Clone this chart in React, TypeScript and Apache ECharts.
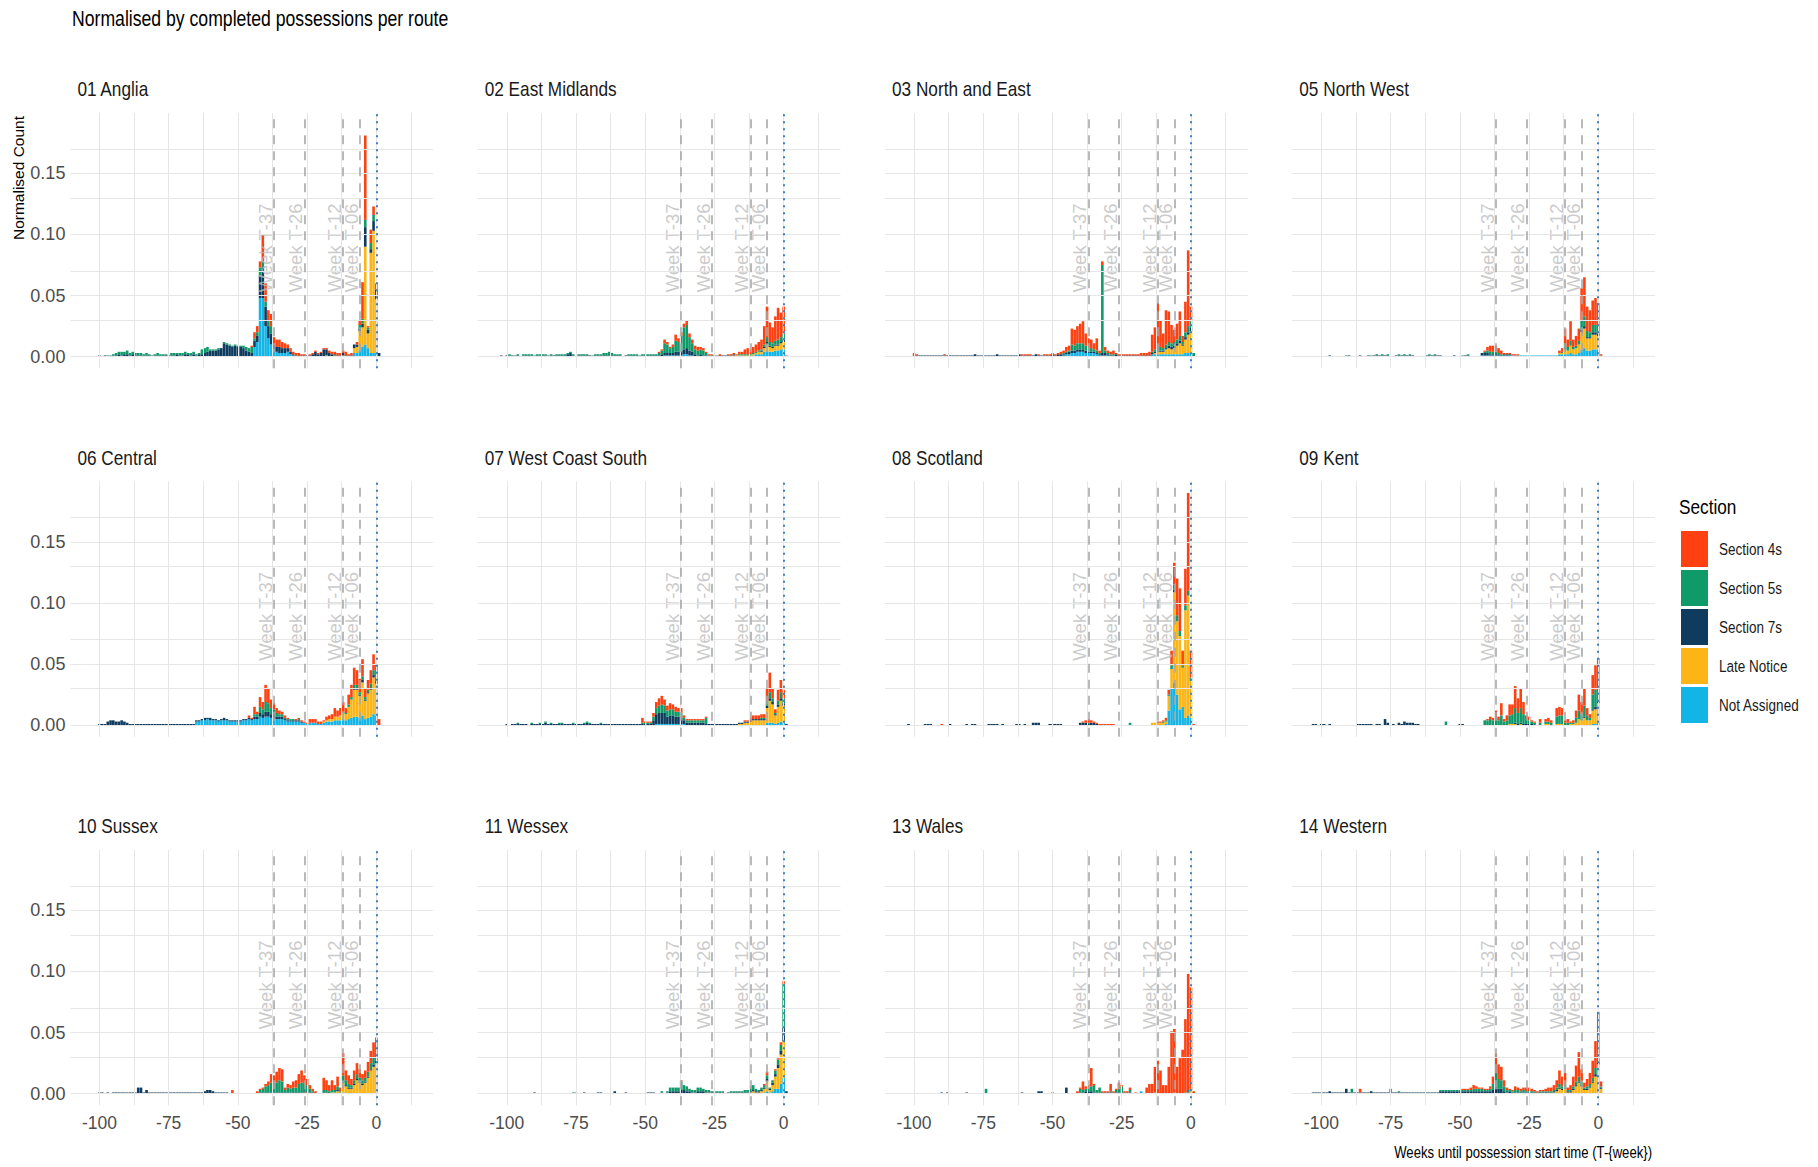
import React, { useEffect, useRef } from "react";
import * as echarts from "echarts";

// ---------------- data (values in thousandths of normalised count) ----------------
// main arrays: weeks -46 .. +1 ; tail arrays: weeks -104 .. -47
const MAIN_START = -46;
const TAIL_START = -104;

const SECTIONS = ["Not Assigned", "Late Notice", "Section 7s", "Section 5s", "Section 4s"]; // stack bottom -> top
const SECTION_COLORS = ["#12B5E6", "#FDB515", "#0E3B5E", "#0F9A6A", "#FF4010"];
const LEGEND_ORDER = ["Section 4s", "Section 5s", "Section 7s", "Late Notice", "Not Assigned"];

const X_TICKS = [-100, -75, -50, -25, 0];
const Y_TICKS = [0, 0.05, 0.1, 0.15];
const GRID_X = [-100, -87.5, -75, -62.5, -50, -37.5, -25, -12.5, 0, 12.5];
const GRID_Y = [0, 0.025, 0.05, 0.075, 0.1, 0.125, 0.15, 0.175];
const MILESTONE_WEEKS = [-37, -26, -12, -6];
const MILESTONE_LABELS = ["Week T-37", "Week T-26", "Week T-12", "Week T-06"];

// 01 Anglia
const angliaNA = [0,0,8,12,48,48,25,15, 10,6,4,3,3,3,4,2, 1,0,0,0,0,0,0,0, 0,0,0,0,0,0,0,0, 0,0,0,0,0,0,3,3, 6,8,10,7,3,3,3,0];
const angliaLN = [0,0,0,0,0,0,0,0, 0,0,0,0,0,0,0,0, 0,0,0,0,0,0,0,0, 0,0,0,0,1,0,0,1, 0,0,1,0,0,0,4,5, 15,16,80,12,82,100,44,0];
const angliaS7 = [4,3,5,5,18,25,16,10, 9,4,4,5,4,4,3,2, 1,1,0,1,1,1,1,2, 4,2,3,6,5,3,2,1, 1,1,2,1,1,1,3,2, 2,3,16,3,3,8,8,3];
const angliaS5 = [3,5,2,3,7,5,4,5, 6,0,0,0,0,0,0,0, 0,0,0,0,0,0,0,0, 0,0,0,0,0,0,0,0, 0,0,0,0,0,0,0,0, 3,4,6,2,5,5,0,0];
const angliaS4 = [0,1,5,5,5,22,15,8, 10,6,6,6,5,4,3,3, 2,2,3,1,1,0,1,1, 1,1,1,1,1,2,2,2, 2,2,2,3,1,2,0,2, 4,30,69,1,11,7,5,0];
const angliaT7 = [0,0,0,0,1,0,1,0,0,1, 1,2,1,2,2,1,2,1,1,1, 1,1,1,0,1,1,1,1,1,1, 1,1,2,1,1,2,2,1,2,1, 2,2,3,4,5,5,5,6,7,11, 10,9,8,9,8,8,7,5];
const angliaT5 = [0,0,0,0,0,0,0,1,1,1, 2,2,3,2,3,2,2,2,2,2, 1,2,1,1,1,2,1,1,1,0, 2,2,1,2,2,2,1,2,2,1, 1,4,4,4,1,1,1,1,0,1, 1,1,1,1,1,1,2,3];

// 02 East Midlands
const emNA = [0,0,0,1,1,1,1,1, 1,1,2,2,1,1,0,0, 0,0,0,0,0,0,0,0, 0,0,0,0,0,0,0,0, 0,0,0,1,2,2,2,4, 5,4,4,5,5,6,6,0];
const emLN = [0,0,0,0,0,0,0,0, 0,0,0,0,0,0,0,0, 0,0,0,0,0,0,0,0, 0,0,0,0,1,1,1,1, 1,1,1,1,1,2,2,3, 5,4,3,4,4,5,6,0];
const emS7 = [1,1,2,2,2,2,2,3, 3,4,4,5,4,3,2,1, 2,1,1,0,0,0,0,0, 1,1,1,1,1,0,0,0, 0,0,0,0,0,0,1,1, 2,1,1,1,1,1,2,0];
const emS5 = [1,2,3,8,7,4,5,9, 8,12,18,19,11,7,4,4, 4,4,2,1,1,1,1,0, 0,0,0,0,0,0,1,1, 1,1,1,1,1,1,1,2, 4,3,3,3,4,4,5,0];
const emS4 = [0,1,1,3,2,1,2,5, 3,3,3,4,3,3,3,3, 2,2,1,1,1,0,0,2, 0,0,1,1,1,1,2,2, 4,5,4,5,6,7,8,15, 25,16,13,20,26,20,22,1];
const emT7 = [0,0,1,0,1,1,1,0,1,0, 1,1,1,1,0,1,1,1,1,0, 1,1,1,1,1,1,2,3,1,0, 1,1,1,1,1,0,1,1,1,1, 1,1,1,1,1,1,0,1,1,1, 1,1,0,1,1,1,1,1];
const emT5 = [0,0,0,0,0,1,0,1,1,0, 1,1,1,1,1,1,1,1,1,1, 1,0,1,1,1,1,1,1,1,0, 1,1,1,1,0,1,1,1,1,2, 2,3,2,1,1,1,0,0,1,1, 1,1,1,1,1,1,1,1];

// 03 North and East
const neNA = [1,2,2,3,3,4,4,4, 3,3,3,3,2,1,1,1, 1,0,0,0,0,0,0,0, 0,0,0,0,0,0,0,0, 2,2,2,2,2,2,2,2, 2,2,2,2,3,3,3,0];
const neLN = [0,0,0,0,0,0,0,0, 0,0,0,0,0,0,0,0, 0,0,0,0,0,0,0,0, 0,0,0,0,0,0,0,0, 0,1,2,2,2,4,5,4, 5,7,9,7,11,15,18,0];
const neS7 = [1,1,2,2,2,2,2,2, 2,1,1,1,1,1,2,2, 1,1,1,2,1,1,1,1, 1,1,1,1,1,1,1,1, 1,1,1,1,1,1,2,2, 2,2,2,1,2,2,3,0];
const neS5 = [1,1,1,5,4,5,5,5, 4,3,3,2,2,1,72,2, 1,1,1,0,0,0,0,0, 0,0,0,0,0,0,0,0, 1,2,3,3,2,3,3,3, 3,3,4,2,4,5,5,3];
const neS4 = [2,4,4,13,13,14,16,18, 10,8,7,5,10,2,3,3, 2,2,3,1,1,1,1,1, 1,1,1,1,2,2,2,3, 14,18,36,22,12,28,25,15, 10,13,20,5,25,62,12,0];
const neT7 = [0,0,0,0,1,1,1,1,1,1, 1,1,1,1,1,1,1,1,1,1, 1,1,1,1,1,1,2,1,1,1, 1,1,1,1,2,1,1,1,1,1, 1,1,2,1,1,1,1,1,2,1, 1,1,1,1,2,1,2,2];
const neT4 = [0,0,0,0,2,1,0,0,0,0, 0,0,0,0,0,1,0,0,0,0, 0,0,0,0,0,0,0,0,0,0, 0,0,0,0,0,0,0,0,0,0, 0,0,0,1,1,1,1,0,0,1, 0,1,1,1,1,1,1,2];

// 05 North West
const nwNA = [0,0,0,0,1,1,1,1, 1,1,1,0,1,1,1,1, 1,1,1,1,1,1,1,1, 1,1,1,1,1,1,1,1, 2,2,2,2,3,2,2,3, 6,7,5,5,6,6,6,0];
const nwLN = [0,0,0,0,0,0,0,0, 0,0,0,0,0,0,0,0, 0,0,0,0,0,0,0,0, 0,0,0,0,0,0,0,0, 1,1,4,3,6,4,5,7, 14,16,10,10,12,12,11,0];
const nwS7 = [0,0,0,0,2,2,2,1, 1,1,1,1,1,1,1,0, 0,0,0,0,0,0,0,0, 0,0,0,0,0,0,0,0, 0,0,1,0,0,0,0,0, 2,2,1,1,2,2,2,0];
const nwS5 = [0,0,0,0,0,1,2,2, 2,2,1,1,0,0,0,0, 0,0,0,0,0,0,0,0, 0,0,0,0,0,0,0,0, 0,1,4,3,4,2,2,3, 8,8,5,4,6,6,7,1];
const nwS4 = [0,0,0,0,0,1,3,5, 5,5,4,3,1,1,1,1, 1,1,0,0,0,0,0,0, 0,0,0,0,0,0,0,0, 2,3,12,6,16,6,8,10, 26,32,20,18,20,22,18,1];
const nwT7 = [0,0,0,0,0,0,0,1,0,0, 0,0,0,0,1,0,0,0,1,0, 0,1,0,1,1,1,1,1,1,0, 0,1,1,1,1,1,1,1,0,0, 0,0,1,1,1,1,1,1,0,0, 0,0,1,0,0,0,1,1];
const nwT5 = [0,0,0,0,0,0,0,0,0,0, 0,0,0,1,0,0,0,0,0,0, 0,0,1,0,1,0,1,0,1,0, 0,0,1,0,1,0,1,0,0,0, 0,0,0,1,0,1,0,0,0,0, 0,0,0,0,0,1,0,1];

// 06 Central
const ceNA = [5,4,5,5,7,6,7,7, 6,6,5,5,5,4,3,3, 3,3,3,2,2,1,2,2, 2,1,1,2,3,3,3,4, 4,4,5,4,5,6,7,7, 6,8,5,6,7,9,8,0];
const ceLN = [0,0,0,0,0,0,0,0, 0,0,0,0,0,0,0,0, 0,0,0,0,0,0,0,0, 0,0,0,1,1,2,2,3, 3,4,5,5,10,15,22,22, 18,27,15,20,22,30,26,0];
const ceS7 = [1,1,2,2,3,3,4,4, 3,3,2,2,2,1,1,1, 1,1,1,1,0,0,0,0, 0,0,0,0,0,0,0,0, 0,0,0,0,0,0,1,1, 1,2,1,1,2,2,2,0];
const ceS5 = [0,0,2,2,5,4,8,7, 5,4,3,2,2,1,1,1, 1,0,1,0,0,0,0,0, 0,0,0,0,0,0,0,0, 0,0,1,1,2,2,3,3, 2,3,2,2,3,4,3,0];
const ceS4 = [2,1,6,2,8,6,14,12, 7,5,4,3,2,2,1,0, 0,1,1,1,1,1,3,3, 3,2,2,1,3,3,4,7, 5,6,8,4,8,10,14,12, 11,14,7,8,11,13,11,5];
const ceT7 = [0,0,0,0,1,1,1,3,4,4, 3,3,4,3,2,1,1,1,1,1, 1,1,1,1,1,1,1,1,1,1, 1,1,1,1,1,1,1,1,1,1, 1,1,2,1,2,1,1,1,1,2, 1,1,1,1,1,1,1,1];
const ceTNA = [0,0,0,0,0,0,0,0,0,0, 0,0,0,0,0,0,0,0,0,0, 0,0,0,0,0,0,0,0,0,0, 0,0,0,0,0,0,0,0,0,3, 3,4,4,5,4,4,4,3,4,4, 4,3,3,3,3,3,4,4];

// 07 West Coast South
const wcNA = [1,1,1,1,1,1,1,1, 1,1,1,0,0,0,0,0, 0,0,0,0,0,0,0,0, 0,0,0,0,0,0,0,0, 0,0,0,0,0,0,0,0, 2,2,2,1,2,3,2,0];
const wcLN = [0,0,0,0,0,0,0,0, 0,0,0,0,0,0,0,0, 0,0,0,0,0,0,0,0, 0,0,0,0,0,0,1,1, 2,2,3,4,4,4,4,4, 12,18,15,7,13,17,14,0];
const wcS7 = [8,9,9,9,6,7,7,6, 6,5,3,2,2,2,2,2, 2,2,1,1,1,1,1,1, 1,1,1,1,1,1,1,1, 1,1,1,1,1,1,1,1, 2,2,2,1,2,2,2,1];
const wcS5 = [5,6,7,6,5,5,5,4, 4,4,2,2,2,2,2,2, 2,2,5,0,0,0,0,0, 0,0,0,0,0,0,0,0, 0,0,0,0,0,0,1,1, 4,5,3,1,3,5,4,0];
const wcS4 = [5,6,7,5,4,5,4,4, 3,4,2,1,1,1,1,1, 1,1,1,0,0,0,0,0, 0,0,0,0,0,0,0,0, 1,1,2,3,3,3,3,3, 10,16,8,3,9,10,7,0];
const wcT7 = [0,0,0,0,1,0,1,1,1,1, 1,1,0,1,1,1,1,1,2,1, 1,1,1,1,1,1,1,1,1,1, 1,1,1,2,1,1,1,1,1,1, 1,1,1,1,1,1,1,1,1,1, 1,1,1,1,1,1,1,4];
const wcT5 = [0,0,0,0,0,0,0,0,1,0, 0,0,0,1,0,0,1,0,1,0, 1,0,0,1,1,0,0,0,1,0, 0,0,1,1,1,0,0,0,1,0, 0,0,0,0,0,0,0,0,0,0, 0,0,0,1,1,1,1,3];
const wcT4 = [0,0,0,0,0,0,0,0,0,0, 0,0,0,0,0,0,0,0,0,0, 0,0,0,0,0,0,0,0,0,0, 0,0,0,0,0,0,0,0,0,0, 0,0,0,0,0,0,0,0,0,0, 0,0,0,4,1,1,1,3];

// 08 Scotland
const scNA = [0,0,0,0,0,0,0,0, 0,0,0,0,0,0,0,0, 0,0,0,0,0,0,0,0, 0,0,0,0,0,0,0,0, 0,0,0,0,0,1,12,30, 35,25,13,15,6,8,6,0];
const scLN = [0,0,0,0,0,0,0,0, 0,0,0,0,0,0,0,0, 0,0,0,0,0,0,0,0, 0,0,0,0,0,0,0,0, 2,2,2,2,2,2,12,16, 74,60,60,32,88,98,30,0];
const scS7 = [0,0,0,0,0,0,2,2, 2,1,2,2,1,0,0,0, 0,0,0,0,0,0,0,0, 0,0,0,0,0,0,0,0, 0,0,0,0,0,0,0,0, 2,0,0,0,0,0,0,0];
const scS5 = [0,0,0,0,0,0,0,0, 0,1,0,0,0,0,0,0, 0,0,0,0,0,0,0,0, 2,0,0,0,0,0,0,0, 0,0,0,0,1,1,1,3, 4,5,4,2,4,4,3,0];
const scS4 = [0,0,0,0,0,0,0,1, 2,3,2,1,1,1,1,1, 1,1,1,0,0,0,0,0, 0,0,0,0,0,0,0,0, 0,0,1,1,1,2,4,12, 18,30,35,12,30,80,22,1];
const scT7 = [0,0,1,0,0,0,0,0,1,1, 1,0,0,0,0,0,0,1,0,0, 0,0,0,1,0,1,1,0,0,0, 0,1,1,1,1,0,1,0,0,0, 0,1,1,0,1,0,0,2,2,2, 0,0,0,1,1,1,1,1];
const scT4 = [0,0,0,0,0,0,0,0,0,0, 0,0,0,0,1,0,0,0,0,0, 0,0,0,0,0,0,0,0,0,0, 0,0,0,0,0,0,0,0,0,0, 0,0,0,0,0,0,0,0,0,0, 0,0,0,0,0,0,0,0];

// 09 Kent
const keNA = [0,0,0,0,0,0,0,0, 0,0,0,0,0,0,0,0, 0,0,0,0,0,0,0,0, 0,0,0,0,0,0,0,0, 0,0,0,0,0,0,0,0, 0,0,0,0,1,1,2,0];
const keLN = [0,0,0,0,0,0,0,0, 0,0,0,0,0,0,1,1, 1,0,1,0,0,0,0,0, 0,0,0,1,1,0,0,1, 1,1,0,0,1,1,2,5, 4,6,4,4,11,12,16,0];
const keS7 = [0,0,0,0,0,0,0,0, 0,0,0,0,0,0,0,0, 1,1,1,1,1,1,1,0, 0,0,0,0,0,0,0,0, 0,0,0,0,0,0,0,0, 0,1,0,0,1,2,2,0];
const keS5 = [0,0,0,0,0,4,4,5, 4,6,4,8,3,4,7,8, 12,9,12,8,4,3,2,2, 0,2,0,2,2,2,0,6, 7,7,2,2,1,1,4,7, 5,9,4,2,12,14,17,0];
const keS4 = [0,0,0,0,0,0,1,2, 2,6,3,10,2,4,9,8, 18,12,16,10,3,3,1,1, 0,3,0,2,3,2,0,7, 7,6,2,3,1,2,6,13, 10,14,6,3,16,20,18,0];
const keT7 = [0,1,1,0,1,1,0,1,0,0, 0,0,0,0,0,0,0,1,1,1, 1,1,1,0,1,1,0,5,2,0, 1,0,2,1,3,2,2,2,1,1, 0,0,0,0,0,0,0,0,0,0, 0,0,0,0,1,1,0,0];
const keT5 = [0,0,0,0,0,0,0,0,0,0, 0,0,0,0,0,0,0,0,0,0, 0,0,0,0,0,0,0,0,0,0, 0,0,0,0,0,0,0,0,0,0, 0,0,0,0,0,0,0,0,0,3, 0,0,0,0,0,0,0,0];

// 10 Sussex
const suNA = [0,0,0,0,0,0,0,0, 0,0,0,0,0,0,0,0, 0,0,0,0,0,0,0,0, 0,0,0,0,0,0,0,0, 0,0,1,0,0,0,0,0, 0,0,0,0,0,0,1,0];
const suLN = [0,0,0,0,0,0,0,0, 0,0,0,0,0,0,0,0, 0,0,0,0,1,1,0,0, 0,0,0,0,0,0,1,1, 2,1,8,6,4,4,7,11, 9,7,9,13,19,22,24,0];
const suS7 = [0,0,0,0,1,1,1,1, 1,1,1,1,1,1,1,1, 1,1,1,1,1,1,1,1, 0,0,0,1,1,0,0,0, 1,0,1,1,1,1,1,1, 1,1,1,1,1,2,2,0];
const suS5 = [0,0,0,0,2,3,5,6, 8,8,8,10,9,2,4,3, 4,4,7,8,6,5,3,1, 0,0,0,2,2,2,2,2, 3,1,5,4,3,2,3,4, 3,3,3,4,5,6,7,0];
const suS4 = [0,0,0,2,1,1,2,3, 7,6,9,10,10,2,3,3, 5,6,8,10,7,5,3,2, 2,0,0,10,8,5,8,4, 8,3,18,8,7,5,8,9, 7,5,6,8,10,12,12,0];
const suT7 = [0,0,0,0,1,1,0,1,0,1, 1,1,1,1,1,1,1,1,5,5, 1,3,1,1,1,1,1,1,1,1, 1,1,1,1,1,1,1,1,1,1, 1,1,2,3,3,2,1,1,1,1, 1,0,0,0,0,0,0,0];
const suT4 = [0,0,0,0,0,0,0,0,0,0, 0,0,0,0,0,0,0,0,0,0, 0,0,0,0,0,0,0,0,0,0, 0,0,0,0,0,0,0,0,0,0, 0,0,0,0,0,0,0,0,0,0, 0,0,3,0,0,0,0,0];

// 11 Wessex
const wxNA = [0,0,0,0,0,0,0,0, 0,0,0,0,0,0,0,0, 0,0,0,0,0,0,0,0, 0,0,0,0,0,0,0,0, 0,0,0,0,0,0,0,1, 2,1,2,4,4,8,13,0];
const wxLN = [0,0,0,0,0,0,0,0, 0,0,0,0,0,0,0,0, 0,0,0,1,0,0,0,0, 0,0,0,0,0,0,0,0, 0,0,1,2,1,1,2,3, 8,2,5,10,17,24,30,0];
const wxS7 = [0,0,1,0,1,2,2,2, 2,3,3,2,2,1,1,2, 2,2,1,1,1,1,1,1, 1,0,1,1,1,1,1,1, 1,1,1,1,1,1,1,1, 2,1,2,2,3,3,11,2];
const wxS5 = [0,0,1,0,1,3,3,3, 3,7,4,4,2,2,2,3, 3,2,2,1,1,1,1,1, 1,0,0,1,1,1,1,1, 2,2,3,4,2,1,2,2, 3,1,2,3,4,5,36,0];
const wxS4 = [0,0,0,0,0,0,0,0, 0,1,0,0,0,0,0,0, 0,0,0,0,0,0,0,0, 0,0,0,0,0,0,0,0, 0,0,1,0,0,0,0,1, 3,0,0,1,1,2,2,0];
const wxT7 = [0,0,0,0,0,0,0,0,0,0, 0,0,0,0,1,0,0,0,0,0, 0,0,0,0,0,0,0,0,0,0, 0,0,1,0,0,0,0,1,1,0, 0,0,0,2,0,0,0,1,0,0, 0,0,0,0,0,1,1,1];
const wxT5 = [0,0,0,0,0,0,0,0,0,0, 0,0,0,0,0,0,0,0,0,0, 0,0,0,0,0,0,0,0,1,1, 0,0,0,0,0,0,0,0,0,0, 0,0,0,0,0,0,0,0,0,0, 0,0,0,0,0,0,0,0];

// 13 Wales
const waNA = [0,0,0,0,0,0,0,0, 0,0,0,0,0,0,0,0, 0,0,0,0,0,0,0,0, 0,0,0,0,2,0,0,0, 0,0,0,0,0,0,0,0, 0,0,0,0,0,0,1,0];
const waLN = [0,0,0,0,0,0,0,0, 0,0,0,0,0,0,0,0, 0,0,0,0,0,0,0,0, 0,0,0,0,0,0,0,0, 0,0,0,0,0,0,0,0, 0,0,0,0,0,1,2,0];
const waS7 = [0,5,0,0,0,0,1,1, 2,2,2,1,1,1,1,1, 1,1,1,1,1,1,1,1, 1,0,0,0,0,0,0,0, 0,0,0,0,0,0,0,0, 0,0,0,0,0,1,1,0];
const waS5 = [0,0,0,0,0,0,3,2, 2,3,4,6,2,4,0,0, 0,1,0,2,3,5,0,0, 2,0,0,0,0,0,0,0, 0,1,0,0,0,0,0,0, 1,0,0,0,1,1,0,0];
const waS4 = [0,0,0,0,0,2,1,7, 2,2,15,1,0,0,1,1, 1,6,1,1,5,1,1,1, 2,0,1,0,0,0,5,8, 8,21,27,19,7,7,22,51, 52,22,29,36,60,95,83,2];
const waT7 = [0,0,0,0,0,0,0,0,0,0, 0,0,0,0,1,0,1,0,0,0, 0,0,0,1,0,0,0,0,0,0, 0,0,0,0,0,0,0,0,0,0, 0,0,0,1,0,0,0,0,0,2, 2,0,0,0,1,0,0,0];
const waT5 = [0,0,0,0,0,0,0,0,0,0, 0,0,0,0,0,0,0,0,0,0, 0,0,0,0,0,0,0,0,0,0, 4,0,0,0,0,0,0,0,0,0, 0,0,0,0,0,0,0,0,0,0, 0,0,0,0,0,0,0,0];

// 14 Western
const weNA = [0,0,0,0,0,0,0,0, 0,0,0,0,0,0,0,0, 0,0,0,0,0,0,0,0, 0,0,0,0,0,0,0,0, 0,0,0,0,0,0,0,0, 0,0,0,0,0,0,1,0];
const weLN = [0,0,0,0,0,0,0,0, 0,0,0,0,0,0,0,0, 0,0,0,0,0,0,0,0, 0,0,0,0,0,0,1,2, 4,3,4,1,1,3,6,9, 6,3,3,5,9,14,23,4];
const weS7 = [2,2,2,2,2,2,2,2, 3,6,4,4,2,1,2,1, 1,1,1,1,1,1,1,1, 1,1,1,1,1,1,1,1, 1,1,1,1,1,1,1,1, 1,1,1,1,1,2,2,1];
const weS5 = [1,2,2,2,2,1,1,2, 5,11,8,7,4,2,1,1, 2,2,1,2,1,1,1,1, 0,1,1,1,1,1,1,2, 3,2,3,1,1,2,3,4, 3,1,2,2,3,5,7,1];
const weS4 = [2,3,2,1,1,1,1,2, 6,16,12,11,5,2,1,1, 3,2,2,2,3,3,2,1, 1,1,1,2,3,3,4,6, 11,8,9,2,4,8,13,20, 10,4,6,9,14,22,34,4];
const weT7 = [0,1,1,1,1,1,1,2,1,1, 1,1,1,4,1,1,1,1,1,1, 1,1,2,1,1,1,1,1,1,1, 1,1,1,1,1,1,1,1,1,1, 1,1,1,1,1,1,1,2,2,2, 2,2,2,2,2,2,2,2];
const weT5 = [0,0,0,0,0,0,0,0,0,0, 0,0,0,0,0,3,0,0,0,0, 0,0,0,0,0,0,0,0,0,0, 0,0,1,0,0,0,0,0,0,0, 0,0,0,0,0,0,0,1,1,1, 1,1,1,1,1,1,1,1];
const weT4 = [0,0,0,0,0,0,0,0,0,0, 0,0,0,0,0,0,0,0,3,0, 0,0,0,0,0,0,0,0,0,3, 0,0,0,0,0,0,0,0,0,0, 0,0,0,0,0,0,0,0,0,0, 0,0,0,0,0,1,1,1];

// table of panels (section order = SECTIONS)
const PANELS = [
  { title: "01 Anglia", main: [angliaNA, angliaLN, angliaS7, angliaS5, angliaS4], tail: [null, null, angliaT7, angliaT5, null] },
  { title: "02 East Midlands", main: [emNA, emLN, emS7, emS5, emS4], tail: [null, null, emT7, emT5, null] },
  { title: "03 North and East", main: [neNA, neLN, neS7, neS5, neS4], tail: [null, null, neT7, null, neT4] },
  { title: "05 North West", main: [nwNA, nwLN, nwS7, nwS5, nwS4], tail: [null, null, nwT7, nwT5, null] },
  { title: "06 Central", main: [ceNA, ceLN, ceS7, ceS5, ceS4], tail: [ceTNA, null, ceT7, null, null] },
  { title: "07 West Coast South", main: [wcNA, wcLN, wcS7, wcS5, wcS4], tail: [null, null, wcT7, wcT5, wcT4] },
  { title: "08 Scotland", main: [scNA, scLN, scS7, scS5, scS4], tail: [null, null, scT7, null, scT4] },
  { title: "09 Kent", main: [keNA, keLN, keS7, keS5, keS4], tail: [null, null, keT7, keT5, null] },
  { title: "10 Sussex", main: [suNA, suLN, suS7, suS5, suS4], tail: [null, null, suT7, null, suT4] },
  { title: "11 Wessex", main: [wxNA, wxLN, wxS7, wxS5, wxS4], tail: [null, null, wxT7, wxT5, null] },
  { title: "13 Wales", main: [waNA, waLN, waS7, waS5, waS4], tail: [null, null, waT7, waT5, null] },
  { title: "14 Western", main: [weNA, weLN, weS7, weS5, weS4], tail: [null, null, weT7, weT5, weT4] },
];

// ---------------- layout & style ----------------
const W = 1818;
const H = 1167;
const SANS = "'Liberation Sans', Arial, 'DejaVu Sans', sans-serif";
const SQUEEZE = 0.82; // the reference's horizontal text is condensed
const GRID_LEFT0 = 70.4;
const GRID_DX = 407.3;
const GRID_TOP0 = 112.9;
const GRID_DY = 368.5;
const GRID_W = 362.7;
const GRID_H = 255.4;
const X_MIN = -110;
const X_MAX = 20;
const Y_MIN = -0.0095;
const Y_MAX = 0.1995;
const BAR_W = 2.6;
const LABEL_SHIFT = -3.1; // week offset of the rotated milestone labels
const LABEL_Y = 0.089;

const WEEK_CATS: string[] = [];
for (let w = X_MIN; w <= X_MAX; w++) WEEK_CATS.push(String(w));

function weekly(main: number[], tail: number[] | null): number[] {
  return WEEK_CATS.map((_, idx) => {
    const w = X_MIN + idx;
    let v = 0;
    if (w >= TAIL_START && w < MAIN_START) v = tail ? (tail[w - TAIL_START] ?? 0) : 0;
    else if (w >= MAIN_START) v = main[w - MAIN_START] ?? 0;
    return v / 1000;
  });
}

function squeezedText(text: string, x: number, y: number, fontSize: number, align: string, fill = "#000") {
  return {
    type: "text",
    x,
    y,
    scaleX: SQUEEZE,
    silent: true,
    style: { text, fontSize, fontFamily: SANS, fill, align, verticalAlign: "middle" },
  };
}

function buildOption() {
  const grid: any[] = [];
  const xAxis: any[] = [];
  const yAxis: any[] = [];
  const series: any[] = [];
  const graphic: any[] = [];

  PANELS.forEach((p, i) => {
    const r = Math.floor(i / 4);
    const c = i % 4;
    const left = GRID_LEFT0 + c * GRID_DX;
    const top = GRID_TOP0 + r * GRID_DY;
    grid.push({ left, top, width: GRID_W, height: GRID_H, containLabel: false });
    // category axis for the weekly bins (hidden)
    xAxis.push({
      gridIndex: i,
      type: "category",
      position: "top",
      data: WEEK_CATS,
      boundaryGap: true,
      show: false,
    });
    // value axis for labels, grid lines and annotations
    xAxis.push({
      gridIndex: i,
      type: "value",
      position: "bottom",
      min: X_MIN - 0.5,
      max: X_MAX + 0.5,
      axisLine: { show: false },
      axisTick: { show: false },
      splitLine: { show: false },
      axisLabel: {
        show: r === 2,
        customValues: X_TICKS,
        formatter: (v: number) => String(v),
        fontSize: 17.5,
        fontFamily: SANS,
        color: "#4d4d4d",
        margin: 9,
      },
    });
    yAxis.push({
      gridIndex: i,
      type: "value",
      min: Y_MIN,
      max: Y_MAX,
      axisLine: { show: false },
      axisTick: { show: false },
      splitLine: { show: false },
      axisLabel: {
        show: c === 0,
        customValues: Y_TICKS,
        formatter: (v: number) => v.toFixed(2),
        fontSize: 18,
        fontFamily: SANS,
        color: "#4d4d4d",
        margin: 5,
      },
    });

    const valueX = 2 * i + 1;

    // background grid lines
    series.push({
      type: "scatter",
      xAxisIndex: valueX,
      yAxisIndex: i,
      data: [[X_MIN, Y_MIN]],
      symbolSize: 0,
      itemStyle: { color: "transparent" },
      silent: true,
      z: 1,
      markLine: {
        silent: true,
        symbol: ["none", "none"],
        label: { show: false },
        emphasis: { disabled: true },
        lineStyle: { color: "#e6e6e6", width: 1, type: "solid" },
        data: [...GRID_X.map((x) => ({ xAxis: x })), ...GRID_Y.map((y) => ({ yAxis: y }))],
      },
    });

    SECTIONS.forEach((s, k) => {
      series.push({
        type: "bar",
        name: s,
        xAxisIndex: 2 * i,
        yAxisIndex: i,
        stack: "route" + i,
        barWidth: BAR_W,
        itemStyle: { color: SECTION_COLORS[k] },
        silent: true,
        z: 2,
        data: weekly(p.main[k], p.tail[k]),
      });
    });

    // milestone lines + labels
    series.push({
      type: "scatter",
      xAxisIndex: valueX,
      yAxisIndex: i,
      symbolSize: 1,
      itemStyle: { color: "transparent" },
      silent: true,
      z: 4,
      data: MILESTONE_WEEKS.map((w, k) => ({ name: MILESTONE_LABELS[k], value: [w + LABEL_SHIFT, LABEL_Y] })),
      label: {
        show: true,
        position: "inside",
        rotate: 90,
        formatter: (d: any) => d.name,
        color: "#bdbdbd",
        fontSize: 18.5,
        fontFamily: SANS,
      },
      markLine: {
        silent: true,
        symbol: ["none", "none"],
        label: { show: false },
        emphasis: { disabled: true },
        data: [
          ...MILESTONE_WEEKS.map((w) => ({ xAxis: w, lineStyle: { type: [9, 7], color: "#a8a8a8", width: 1.6 } })),
          { xAxis: 0, lineStyle: { type: [2, 5], color: "#3f7fbf", width: 2 } },
        ],
      },
    });

    graphic.push(squeezedText(p.title, left + 7, top - 24, 21, "left", "#1a1a1a"));
  });

  graphic.push(
    squeezedText("Normalised by completed possessions per route", 72, 18.5, 21.5, "left"),
    {
      type: "text",
      x: 18,
      y: 178,
      rotation: Math.PI / 2,
      silent: true,
      style: { text: "Normalised Count", fontSize: 15.5, fontFamily: SANS, fill: "#000", align: "center", verticalAlign: "middle" },
    },
    squeezedText("Weeks until possession start time (T-{week})", 1652, 1153, 16, "right"),
    squeezedText("Section", 1679, 507, 21, "left")
  );

  // legend keys
  LEGEND_ORDER.forEach((name, k) => {
    const color = SECTION_COLORS[SECTIONS.indexOf(name)];
    const keyTop = 531 + k * 39;
    graphic.push({
      type: "rect",
      silent: true,
      shape: { x: 1681, y: keyTop, width: 27, height: 36 },
      style: { fill: color },
    });
    graphic.push(squeezedText(name, 1719, keyTop + 18, 16.5, "left", "#1a1a1a"));
  });

  return {
    animation: false,
    backgroundColor: "#ffffff",
    grid,
    xAxis,
    yAxis,
    series,
    graphic,
  };
}

export default function App() {
  const ref = useRef<HTMLDivElement>(null);
  useEffect(() => {
    if (!ref.current) return;
    const chart = echarts.init(ref.current, null, { renderer: "svg", width: W, height: H });
    chart.setOption(buildOption() as any);
    return () => chart.dispose();
  }, []);
  return <div ref={ref} style={{ position: "absolute", left: 0, top: 0, width: W, height: H, background: "#fff" }} />;
}
